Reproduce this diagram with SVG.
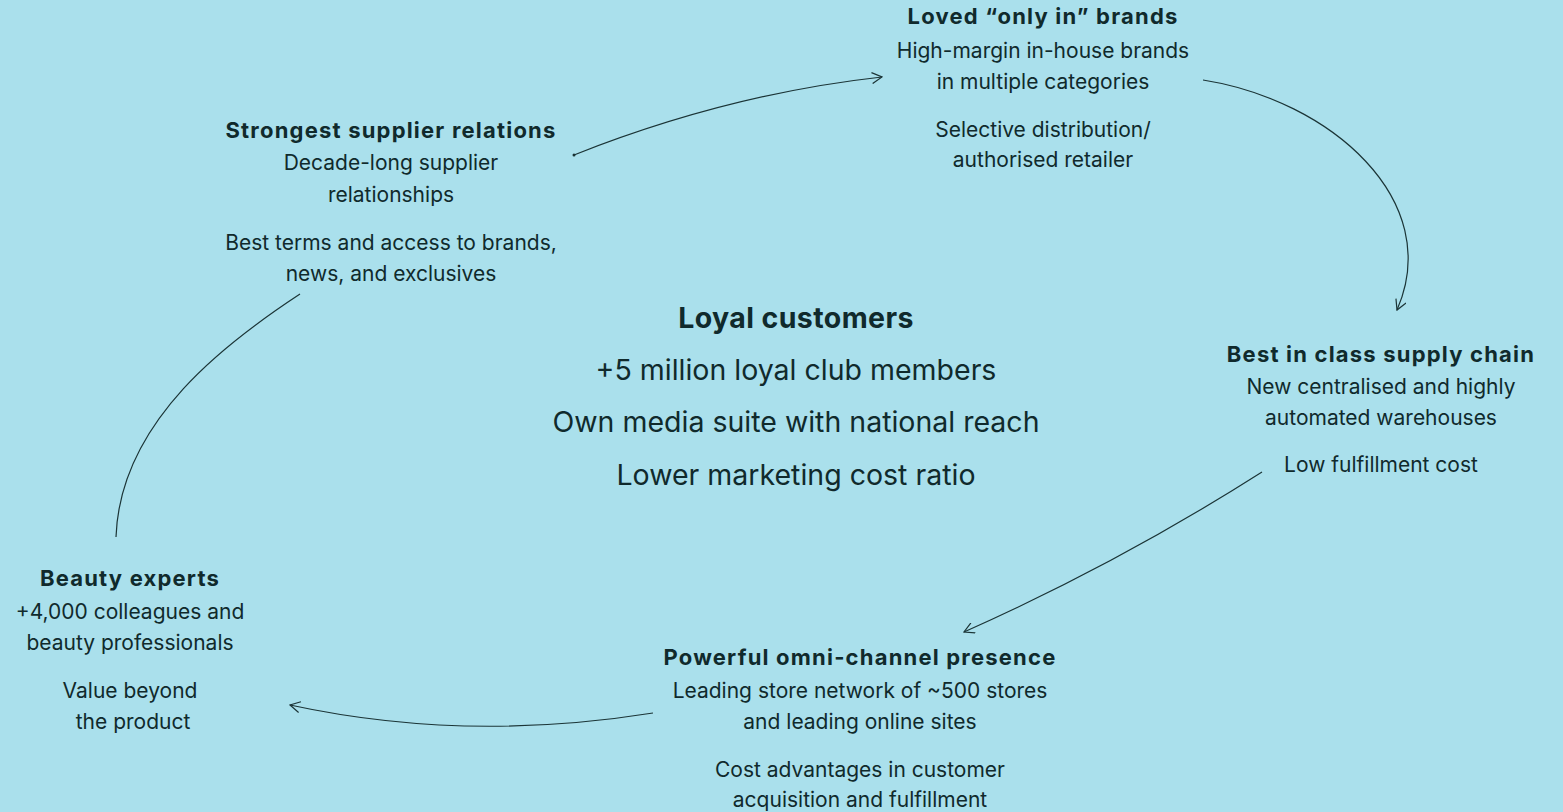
<svg xmlns="http://www.w3.org/2000/svg" width="1563" height="812" viewBox="0 0 1563 812">
  <style>
    text { font-family: Inter, "Noto Sans", "Liberation Sans", sans-serif; fill: #102a2c; text-anchor: middle; }
    .t { font-size: 22px; font-weight: 700; letter-spacing: 1.2px; }
    .b { font-size: 21px; font-weight: 400; }
    .ct { font-size: 28.5px; font-weight: 700; letter-spacing: 0.4px; }
    .cb { font-size: 28.5px; font-weight: 400; }
    .link { fill: none; stroke: #1b3436; stroke-width: 1.2; }
  </style>
  <defs>
    <marker id="chev" viewBox="0 0 12 12" refX="11" refY="6" markerWidth="12" markerHeight="12" markerUnits="userSpaceOnUse" orient="auto">
      <path d="M1,0.5 L11,6 L1,11.5" fill="none" stroke="#1b3436" stroke-width="1.2"/>
    </marker>
  </defs>
  <rect width="1563" height="812" fill="#aae0ec"/>

  <g id="connectors">
    <circle cx="574" cy="155" r="1.5" fill="#1b3436"/>
    <path class="link" d="M574,155 Q728,94 882,77" marker-end="url(#chev)"/>
    <path class="link" d="M1203,80 C1330,100 1445,200 1397,310" marker-end="url(#chev)"/>
    <path class="link" d="M1262,472 Q1119,563 964,632" marker-end="url(#chev)"/>
    <path class="link" d="M653,713 Q465,743 290,705" marker-end="url(#chev)"/>
    <path class="link" d="M300,294 C230,340 120,420 116,537"/>
  </g>

  <g id="loved-brands">
    <text class="t" x="1043" y="24">Loved “only in” brands</text>
    <text class="b" x="1043" y="58">High-margin in-house brands</text>
    <text class="b" x="1043" y="89">in multiple categories</text>
    <text class="b" x="1043" y="137">Selective distribution/</text>
    <text class="b" x="1043" y="167">authorised retailer</text>
  </g>

  <g id="supplier-relations">
    <text class="t" x="391" y="138">Strongest supplier relations</text>
    <text class="b" x="391" y="170">Decade-long supplier</text>
    <text class="b" x="391" y="202">relationships</text>
    <text class="b" x="391" y="250">Best terms and access to brands,</text>
    <text class="b" x="391" y="281">news, and exclusives</text>
  </g>

  <g id="supply-chain">
    <text class="t" x="1381" y="362">Best in class supply chain</text>
    <text class="b" x="1381" y="394">New centralised and highly</text>
    <text class="b" x="1381" y="425">automated warehouses</text>
    <text class="b" x="1381" y="472">Low fulfillment cost</text>
  </g>

  <g id="omni-channel">
    <text class="t" x="860" y="665">Powerful omni-channel presence</text>
    <text class="b" x="860" y="698">Leading store network of ~500 stores</text>
    <text class="b" x="860" y="729">and leading online sites</text>
    <text class="b" x="860" y="777">Cost advantages in customer</text>
    <text class="b" x="860" y="807">acquisition and fulfillment</text>
  </g>

  <g id="beauty-experts">
    <text class="t" x="130" y="586">Beauty experts</text>
    <text class="b" x="130" y="619">+4,000 colleagues and</text>
    <text class="b" x="130" y="650">beauty professionals</text>
    <text class="b" x="130" y="698">Value beyond</text>
    <text class="b" x="133" y="729">the product</text>
  </g>

  <g id="loyal-customers">
    <text class="ct" x="796" y="328">Loyal customers</text>
    <text class="cb" x="796" y="380">+5 million loyal club members</text>
    <text class="cb" x="796" y="432">Own media suite with national reach</text>
    <text class="cb" x="796" y="485">Lower marketing cost ratio</text>
  </g>
</svg>
